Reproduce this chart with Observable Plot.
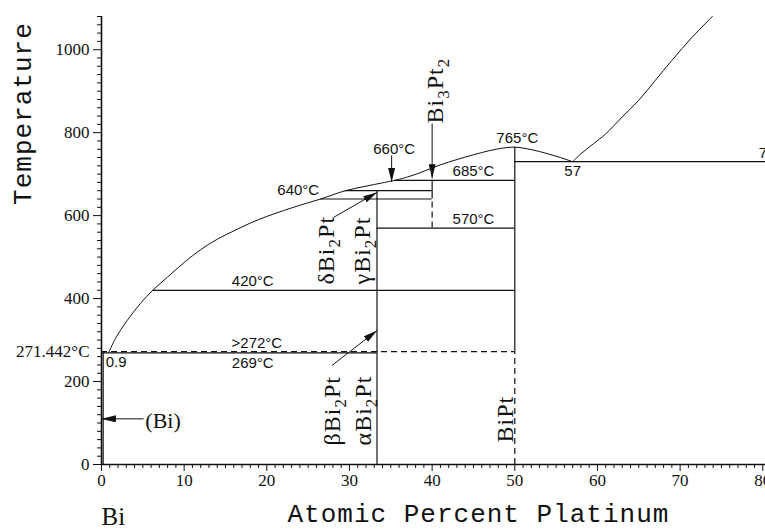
<!DOCTYPE html>
<html>
<head>
<meta charset="utf-8">
<script src="https://cdn.jsdelivr.net/npm/d3@7"></script>
<script src="https://cdn.jsdelivr.net/npm/@observablehq/plot@0.6"></script>
<style>
  html, body { margin: 0; padding: 0; background: #fff; overflow: hidden; }
  #chart svg { display: block; overflow: hidden; }
</style>
</head>
<body>
<div id="chart"></div>
<script>
// ---------- data (atomic % Pt, temperature °C) ----------
const xTicksMajor = [0, 10, 20, 30, 40, 50, 60, 70, 80];
const yTicksMajor = [0, 200, 400, 600, 800, 1000];
const xTicksMinor = d3.range(0, 81, 1).filter(v => v % 10 !== 0);
const yTicksMinor = d3.range(0, 1081, 20).filter(v => v % 200 !== 0);

// liquidus: Bi side up to the Bi3Pt2 peritectic
const liquidusA = [[0.9,271],[1.7,304],[3.1,347],[4.7,388],[6.2,420],[8,452],[10,487],[12,518],[14,543],[16,563],[18,582],[20,598],[22,612],[24,625],[26.5,640],[29.5,660],[32,671],[34,679],[35.5,685]];
// liquidus: BiPt dome to eutectic
const liquidusB = [[35.5,685],[37,693],[38.5,703],[40,715],[42,729],[44,741],[46,752],[48,761],[50,765],[52,759],[54,749],[55.5,740],[57,730]];
// liquidus: Pt side
const liquidusC = [[57,730],[58,749],[59.5,773],[61,797],[63,838],[65,878],[67,926],[69,974],[71.5,1031],[73.9,1080]];

// solid isotherms
const isoT    = [269, 420, 570, 640, 660, 685, 730];
const isoFrom = [0, 6.2, 33.33, 26.5, 29.5, 35.5, 50];
const isoTo   = [33.33, 50, 50, 40, 40, 50, 80.33];
// dashed isotherm
const dashIsoT = [272];
const dashIsoFrom = [0];
const dashIsoTo = [50];

// solid vertical phase boundaries
const vertX    = [33.33, 40, 50, 0.2];
const vertFrom = [0, 640, 272, 0];
const vertTo   = [660, 685, 765, 269];
// dashed vertical phase boundaries
const dashVertX    = [40, 50];
const dashVertFrom = [570, 0];
const dashVertTo   = [640, 272];

// arrows (from -> to)
const arrowX1 = [5.1, 35.1, 40, 28.1, 27.9];
const arrowT1 = [110, 745, 822, 596, 239];
const arrowX2 = [0.05, 35.1, 40, 33.33, 33.33];
const arrowT2 = [110, 681, 690, 656, 323];

// temperature labels above lines
const aboveText = ["420°C", ">272°C", "640°C", "685°C", "570°C", "765°C", "660°C"];
const aboveX    = [18.3, 18.8, 23.8, 45, 45, 50.3, 35.4];
const aboveT    = [420, 272, 640, 685, 570, 765, 740];
// label cut by right edge
const edgeText = ["730°C"];
const edgeX = [79.5];
const edgeT = [730];
// labels below lines
const belowText = ["269°C", "57"];
const belowX    = [18.3, 57];
const belowT    = [269, 730];
const cornerText = ["0.9"];
const cornerX = [0.5];
const cornerT = [269];

// phase names (vertical)
const phaseText = ["Bi₃Pt₂", "δBi₂Pt", "γBi₂Pt", "βBi₂Pt", "αBi₂Pt", "BiPt"];
const phaseX    = [40.4, 27.2, 31.6, 27.9, 31.7, 48.9];
const phaseT    = [822, 434, 434, 46, 46, 53];

const yAxisOddText = ["271.442°C"];
const yAxisOddT = [271.442];

const titleY = ["Temperature"];
const titleX = ["Atomic Percent Platinum"];
const cornerElement = ["Bi"];
const solidSolution = ["(Bi)"];

// ---------- tables ----------
const iso = isoT.map((t, i) => ({t, a: isoFrom[i], b: isoTo[i]}));
const dashIso = dashIsoT.map((t, i) => ({t, a: dashIsoFrom[i], b: dashIsoTo[i]}));
const vert = vertX.map((x, i) => ({x, a: vertFrom[i], b: vertTo[i]}));
const dashVert = dashVertX.map((x, i) => ({x, a: dashVertFrom[i], b: dashVertTo[i]}));
const arrows = arrowX1.map((x, i) => ({x1: x, y1: arrowT1[i], x2: arrowX2[i], y2: arrowT2[i]}));
const above = aboveText.map((s, i) => ({s, x: aboveX[i], t: aboveT[i]}));
const edge = edgeText.map((s, i) => ({s, x: edgeX[i], t: edgeT[i]}));
const below = belowText.map((s, i) => ({s, x: belowX[i], t: belowT[i]}));
const corner = cornerText.map((s, i) => ({s, x: cornerX[i], t: cornerT[i]}));
const phases = phaseText.map((s, i) => ({s, x: phaseX[i], t: phaseT[i]}));
const oddY = yAxisOddText.map((s, i) => ({s, t: yAxisOddT[i]}));

const ink = "#111";
const annFont = "'Liberation Sans', Arial, sans-serif";
const serif = "'Liberation Serif', 'DejaVu Serif', serif";
const mono = "'Liberation Mono', 'DejaVu Sans Mono', monospace";

const svg = Plot.plot({
  width: 765,
  height: 529,
  marginLeft: 101,
  marginRight: 0,
  marginTop: 16,
  marginBottom: 65,
  x: {domain: [0, 80.33], label: null},
  y: {domain: [0, 1080], label: null},
  style: {fontFamily: serif, fontSize: "17px", color: ink, background: "white", overflow: "hidden"},
  marks: [
    // axes
    Plot.axisY({ticks: yTicksMinor, tickSize: 4, tickFormat: () => "", label: null}),
    Plot.axisY({ticks: yTicksMajor, tickSize: 8, tickPadding: 4, tickFormat: d3.format("d"), label: null}),
    Plot.axisX({ticks: xTicksMinor, tickSize: 4, tickFormat: () => "", label: null}),
    Plot.axisX({ticks: xTicksMajor, tickSize: 7, tickPadding: 2, tickFormat: d3.format("d"), label: null}),
    Plot.ruleX([0], {y1: 0, y2: 1080, stroke: ink, strokeWidth: 1.6}),
    Plot.ruleY([0], {x1: 0, x2: 80.33, stroke: ink, strokeWidth: 1.6}),
    Plot.text(oddY, {x: 0, y: "t", text: "s", dx: -12, textAnchor: "end", lineAnchor: "middle", fill: ink}),

    // phase boundaries
    Plot.line(liquidusA, {x: d => d[0], y: d => d[1], curve: "catmull-rom", stroke: ink, strokeWidth: 1}),
    Plot.line(liquidusB, {x: d => d[0], y: d => d[1], curve: "catmull-rom", stroke: ink, strokeWidth: 1}),
    Plot.line(liquidusC, {x: d => d[0], y: d => d[1], curve: "catmull-rom", stroke: ink, strokeWidth: 1}),
    Plot.ruleY(iso, {y: "t", x1: "a", x2: "b", stroke: ink, strokeWidth: 1.2}),
    Plot.ruleY(dashIso, {y: "t", x1: "a", x2: "b", stroke: ink, strokeWidth: 1.2, strokeDasharray: "6,4"}),
    Plot.ruleX(vert, {x: "x", y1: "a", y2: "b", stroke: ink, strokeWidth: 1.2}),
    Plot.ruleX(dashVert, {x: "x", y1: "a", y2: "b", stroke: ink, strokeWidth: 1.2, strokeDasharray: "6,4"}),

    // arrows
    Plot.link(arrows, {x1: "x1", y1: "y1", x2: "x2", y2: "y2", stroke: ink, strokeWidth: 1}),

    // temperature / composition labels
    Plot.text(above, {x: "x", y: "t", text: "s", lineAnchor: "bottom", dy: -4, fontFamily: annFont, fontSize: 15, fill: ink}),
    Plot.text(edge, {x: "x", y: "t", text: "s", textAnchor: "start", lineAnchor: "bottom", dy: -4, fontFamily: annFont, fontSize: 15, fill: ink}),
    Plot.text(below, {x: "x", y: "t", text: "s", lineAnchor: "top", dy: 4, fontFamily: annFont, fontSize: 15, fill: ink}),
    Plot.text(corner, {x: "x", y: "t", text: "s", textAnchor: "start", lineAnchor: "top", dy: 3, fontFamily: annFont, fontSize: 15, fill: ink}),
    Plot.text(solidSolution, {x: 5.3, y: 106, text: d => d, textAnchor: "start", lineAnchor: "middle", fontFamily: serif, fontSize: 22, fill: ink}),

    // phase labels (rotated)
    Plot.text(phases, {x: "x", y: "t", text: "s", rotate: -90, textAnchor: "start", lineAnchor: "middle", fontFamily: serif, fontSize: 24, fill: ink}),

    // axis titles
    Plot.text(titleY, {x: 0, y: 846, text: d => d, rotate: -90, dx: -71, textAnchor: "middle", lineAnchor: "bottom", fontFamily: mono, fontSize: 26, fill: ink}),
    Plot.text(titleX, {x: 45.6, y: 0, text: d => d, dy: 57, textAnchor: "middle", lineAnchor: "bottom", fontFamily: mono, fontSize: 26, fill: ink}),
    Plot.text(cornerElement, {x: 0, y: 0, text: d => d, dy: 60, textAnchor: "start", lineAnchor: "bottom", fontFamily: serif, fontSize: 25, fill: ink})
  ]
});

// filled arrowheads
const defs = d3.select(svg).insert("defs", ":first-child");
defs.append("marker")
  .attr("id", "ahead")
  .attr("viewBox", "0 0 14 7")
  .attr("refX", 14).attr("refY", 3.5)
  .attr("markerWidth", 14).attr("markerHeight", 7)
  .attr("markerUnits", "userSpaceOnUse")
  .attr("orient", "auto")
  .append("path").attr("d", "M0,0L14,3.5L0,7Z").attr("fill", ink);
d3.select(svg).selectAll('g[aria-label="link"] path').attr("marker-end", "url(#ahead)");

// phase labels: real subscripts via tspans, slightly wider set
const subDigits = "₀₁₂₃₄₅₆₇₈₉";
d3.select(svg).selectAll("text")
  .filter(function () { return phaseText.includes(this.textContent); })
  .style("letter-spacing", "1px")
  .each(function () {
    const s = this.textContent;
    const el = d3.select(this);
    el.text(null);
    let wasSub = false;
    for (const ch of s) {
      const k = subDigits.indexOf(ch);
      if (k >= 0) {
        el.append("tspan").attr("dy", wasSub ? 0 : 6).style("font-size", "17px").text(String(k));
        wasSub = true;
      } else {
        el.append("tspan").attr("dy", wasSub ? -6 : 0).text(ch);
        wasSub = false;
      }
    }
  });
d3.select(svg).selectAll("text")
  .filter(function () { return titleY.includes(this.textContent) || titleX.includes(this.textContent); })
  .style("letter-spacing", "1px");

document.getElementById("chart").appendChild(svg);
</script>
</body>
</html>
